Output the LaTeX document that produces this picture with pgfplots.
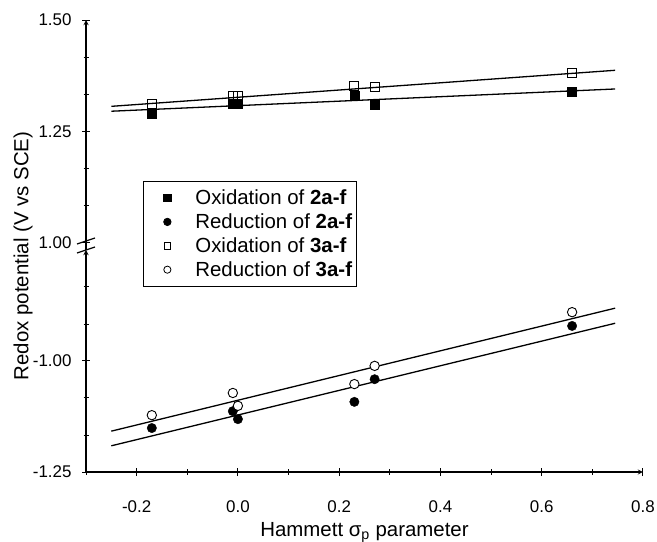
\documentclass[border=0pt]{standalone}
\usepackage{pgfplots}
\pgfplotsset{compat=1.18}
\usepackage{fontspec}
\setmainfont{Liberation Sans}
\begin{document}
\begin{tikzpicture}
\useasboundingbox (0bp,0bp) rectangle (657bp,542bp);
\pgfplotsset{
  brk/.style={
    scale only axis, width=557bp, xmin=-0.3, xmax=0.8,
    axis line style={-, line width=1.3bp},
    tick align=outside,
    major tick length=8bp, minor tick length=5bp,
    every tick/.style={black, line width=1bp},
    tick label style={font=\fontsize{17}{20}\selectfont},
    yticklabel style={xshift=-7bp},
    xticklabel style={yshift=-21bp},
    fitline/.style={black, line width=1.3bp, no marks, forget plot},
  }
}
% ---------- top part ----------
\begin{axis}[brk, at={(86bp,299.5bp)}, anchor=south west, height=222.5bp,
  ymin=1.0, ymax=1.5,
  axis x line=none, axis y line=left,
  ytick={1,1.25,1.5}, yticklabels={1.00,1.25,1.50},
  minor ytick={1.0833,1.1667,1.3333,1.4167},
  legend style={at={(0.1023,0.2764)}, anchor=north west, draw=black, line width=0.8bp,
    font=\fontsize{20.5}{23}\selectfont, row sep=3.6bp, inner xsep=2bp, inner ysep=6.5bp},
  legend cell align=left,
  legend image code/.code={\path[draw=none,fill=none] (-22bp,0bp) rectangle (26bp,0.1bp); \draw[#1] plot coordinates {(0bp,0bp)};},
]
\addlegendimage{only marks, mark=square*, mark size=3.6bp, black}
\addlegendentry{Oxidation of \textbf{2a-f}}
\addlegendimage{only marks, mark=*, mark size=3.7bp, black}
\addlegendentry{Reduction of \textbf{2a-f}}
\addlegendimage{only marks, mark=square, mark size=3.4bp, black, mark options={line width=0.8bp}}
\addlegendentry{Oxidation of \textbf{3a-f}}
\addlegendimage{only marks, mark=o, mark size=3.6bp, black, mark options={line width=0.8bp}}
\addlegendentry{Reduction of \textbf{3a-f}}

\addplot[fitline] coordinates {(-0.25,1.295) (0.745,1.345)};
\addplot[fitline] coordinates {(-0.25,1.306) (0.745,1.387)};
\addplot[only marks, mark=square*, mark size=4.5bp, black, forget plot] coordinates {
  (-0.17,1.290) (-0.01,1.311) (0.00,1.313) (0.23,1.329) (0.27,1.309) (0.66,1.338)};
\addplot[only marks, mark=square, mark size=4.5bp, black, mark options={fill=white, line width=0.9bp}, forget plot] coordinates {
  (-0.17,1.311) (-0.01,1.329) (0.00,1.330) (0.23,1.351) (0.27,1.349) (0.66,1.380)};
\end{axis}
% ---------- bottom part ----------
\begin{axis}[brk, at={(86bp,70bp)}, anchor=south west, height=222bp,
  ymin=-1.25, ymax=-0.75,
  axis x line=bottom, axis y line=left,
  xtick={-0.2,0,0.2,0.4,0.6,0.8}, xticklabels={-0.2,0.0,0.2,0.4,0.6,0.8},
  minor xtick={-0.3,-0.1,0.1,0.3,0.5,0.7},
  ytick={-1.25,-1.0}, yticklabels={-1.25,-1.00},
  minor ytick={-1.1667,-1.0833,-0.9167,-0.8333},
]
\addplot[fitline] coordinates {(-0.25,-1.158) (0.745,-0.881)};
\addplot[fitline] coordinates {(-0.25,-1.191) (0.745,-0.915)};
\addplot[only marks, mark=*, mark size=4.7bp, black] coordinates {
  (-0.17,-1.151) (-0.01,-1.113) (0.00,-1.131) (0.23,-1.092) (0.27,-1.041) (0.66,-0.921)};
\addplot[only marks, mark=*, mark size=4.7bp, black, mark options={fill=white, line width=0.9bp}] coordinates {
  (-0.17,-1.122) (-0.01,-1.072) (0.00,-1.101) (0.23,-1.052) (0.27,-1.011) (0.66,-0.890)};
\end{axis}
% axis break
\draw[line width=1.3bp] (86bp,292bp) -- (86bp,299.5bp);
\draw[line width=1.2bp] (77bp,298bp) -- (95bp,304bp);
\draw[line width=1.2bp] (77bp,289bp) -- (95bp,295bp);
% labels
\node[rotate=90, font=\fontsize{20.5}{23}\selectfont] at (23bp,286bp) {Redox potential (V vs SCE)};
\node[anchor=base, font=\fontsize{20.5}{23}\selectfont] at (364.5bp,6bp) {Hammett σ\textsubscript{p} parameter};
\end{tikzpicture}
\end{document}
